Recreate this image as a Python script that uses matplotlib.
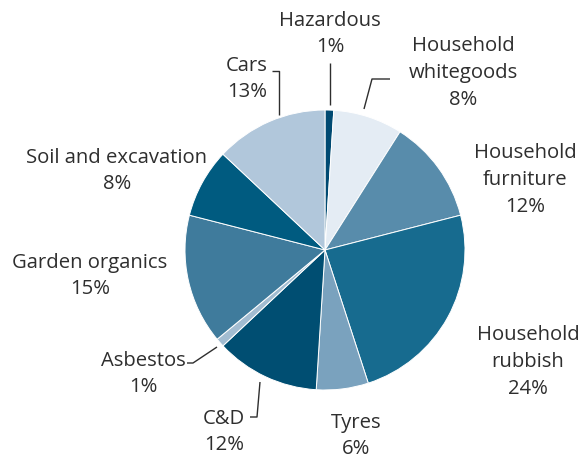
import matplotlib
matplotlib.use("Agg")
import matplotlib.pyplot as plt

categories = ["Hazardous", "Household\nwhitegoods", "Household\nfurniture", "Household\nrubbish",
              "Tyres", "C&D", "Asbestos", "Garden organics", "Soil and excavation", "Cars"]
values = [1, 8, 12, 24, 6, 12, 1, 15, 8, 13]
colors = ["#004a72", "#e4ecf4", "#588cab", "#176b8f", "#7aa2be",
          "#004e72", "#a2bcd1", "#3f7b9c", "#005b80", "#b1c7db"]

W, H = 585, 458
fig = plt.figure(figsize=(W / 100, H / 100), dpi=100)
ax = fig.add_axes([0, 0, 1, 1])

cx, cy, r = 325, H - 250, 140
ax.pie(values, colors=colors, startangle=90, counterclock=False,
       center=(cx, cy), radius=r, frame=True,
       wedgeprops=dict(edgecolor="white", linewidth=0.7))
ax.set_xlim(0, W)
ax.set_ylim(0, H)
ax.set_aspect("equal")
ax.axis("off")

txt = "#2e2e2e"
font = dict(family=["Open Sans", "DejaVu Sans"], size=14.6, color=txt,
            ha="center", va="center", linespacing=1.45)

# label text block centres in image pixels (x, y)
label_pos = [(330, 34), (463, 73), (525, 180), (528, 362), (356, 436),
             (224, 432), (143, 374), (90, 276), (117, 171), (247, 79)]
for cat, v, (x, y) in zip(categories, values, label_pos):
    ax.text(x, H - y, f"{cat}\n{v}%", **font)

# leader lines (image pixel coordinates)
leaders = [
    [(330, 63), (330, 105)],
    [(390, 79), (372, 79), (364, 109)],
    [(272, 71), (279, 71), (279, 115)],
    [(250, 417), (257, 417), (260, 382)],
    [(187, 363), (193, 363), (217, 347)],
]
for pts in leaders:
    xs = [p[0] for p in pts]
    ys = [H - p[1] for p in pts]
    ax.plot(xs, ys, color=txt, linewidth=1.0, solid_capstyle="butt")

fig.savefig("out.png", dpi=100, facecolor="white")
